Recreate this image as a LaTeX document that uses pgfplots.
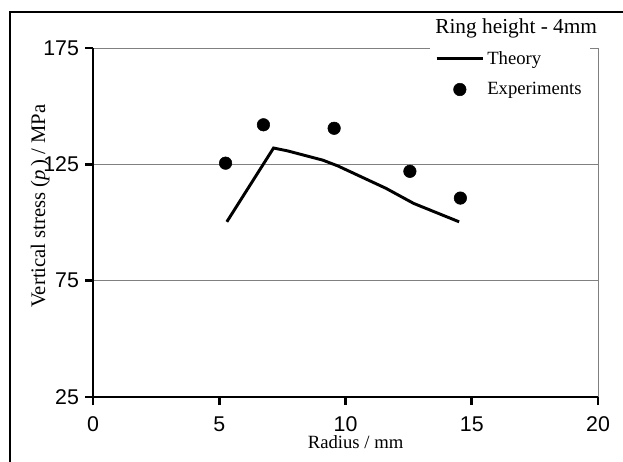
\documentclass[border=0pt]{standalone}
\usepackage{fontspec}
\setmainfont{Liberation Serif}
\setsansfont{Liberation Sans}
\usepackage{pgfplots}
\pgfplotsset{compat=1.18}
\pgfplotsset{
  theorylegend/.style={legend image code/.code={\draw[##1] (0pt,0pt) -- (35pt,0pt);}},
  explegend/.style={legend image code/.code={\path[draw=none] (0pt,0pt) -- (35pt,0pt); \draw[##1, only marks] plot coordinates {(17.5pt,0pt)};}},
}

\begin{document}
\begin{tikzpicture}
\useasboundingbox (0,0) rectangle (467.25pt,345.75pt);
% outer frame (only left and top edges visible)
\draw[line width=2.2pt] (7.5pt,-2pt) -- (7.5pt,336.75pt) -- (470pt,336.75pt);
\begin{axis}[
    at={(69.75pt,48pt)}, anchor=south west,
    scale only axis,
    width=378.75pt, height=261.75pt,
    xmin=0, xmax=20, ymin=25, ymax=175,
    xtick={0,5,10,15,20},
    ytick={25,75,125,175},
    axis x line*=bottom, axis y line*=left,
    axis line style={-, line width=2pt, black},
    xtick pos=bottom, ytick pos=left,
    tick align=outside,
    major tick length=6pt,
    every tick/.style={draw=black, line width=2.2pt},
    ymajorgrids=true,
    grid style={gray, line width=0.7pt},
    /pgf/number format/assume math mode=true,
    ticklabel style={font=\sffamily\fontsize{16}{16}\selectfont},
    xticklabel style={yshift=-5pt},
    yticklabel style={xshift=-1pt},
    xlabel={Radius / mm},
    xlabel style={at={(axis description cs:0.52,0)}, anchor=north, yshift=-25pt, font=\fontsize{14}{14}\selectfont},
    ylabel={Vertical stress (\textit{p}\,) / MPa},
    ylabel style={at={(axis description cs:0,0.547)}, anchor=south, yshift=29pt, font=\fontsize{15.5}{15.5}\selectfont},
    legend style={at={(axis description cs:0.984,1.014)}, anchor=north east,
        fill=white, draw=none, font=\fontsize{14}{14}\selectfont,
        row sep=8pt, inner xsep=4pt, inner ysep=4pt,
        cells={anchor=west}},
    clip=false,
]
\draw[gray, line width=0.7pt] (axis cs:20,25) -- (axis cs:20,175);
% tick stubs on the left and bottom axis lines
\pgfplotsinvokeforeach{0,5,10,15,20}{\draw[black, line width=2.2pt] (axis cs:#1,25) -- ++(0pt,-6pt);}
\pgfplotsinvokeforeach{25,75,125,175}{\draw[black, line width=2.2pt] (axis cs:0,#1) -- ++(-6pt,0pt);}
\addplot[black, line width=2.2pt, mark=none, theorylegend]
  coordinates {(5.3,100.3) (7.15,132) (7.7,130.8) (9.1,126.8) (9.7,124.3) (11.6,114.7) (12.7,108.2) (14.5,100.3)};
\addlegendentry{Theory}
\addplot[only marks, mark=*, mark size=4.7pt, black, explegend]
  coordinates {(5.25,125.5) (6.75,142) (9.55,140.5) (12.55,122) (14.55,110.5)};
\addlegendentry{Experiments}
\node[font=\fontsize{16}{16}\selectfont] at (axis description cs:0.838,1.057) {Ring height - 4mm};
\end{axis}
\end{tikzpicture}
\end{document}
